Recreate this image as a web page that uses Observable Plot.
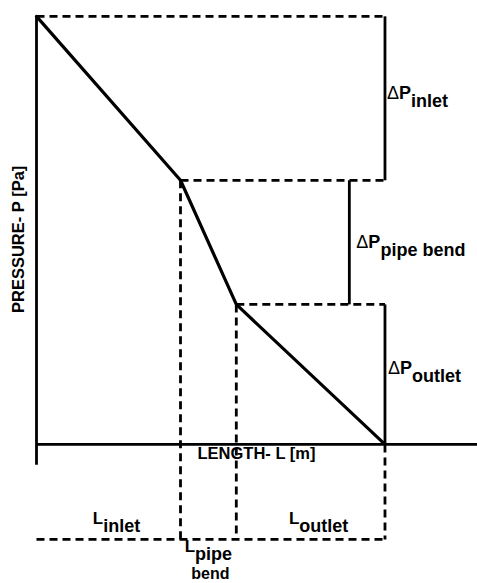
<!DOCTYPE html>
<html><head><meta charset="utf-8">
<script src="https://cdn.jsdelivr.net/npm/d3@7"></script>
<script src="https://cdn.jsdelivr.net/npm/@observablehq/plot@0.6"></script>
<style>body{margin:0;background:#fff} svg{display:block}</style>
</head><body><div id="chart"></div>
<script>
// Length breakpoints: start, end of inlet, end of pipe bend, end of outlet
const lengthBreaks = [0, 4.0, 5.55, 9.68];
// Pressure at those breakpoints
const pressureLevels = [10, 6.17, 3.27, 0];
const bottomLevel = -2.22;      // level of the dashed length-dimension line
const axisBottom = -0.49;       // where the vertical axis ends below the x axis
const bendRuleX = 8.69;         // position of the ΔP pipe bend indicator
const dpNames = ["inlet", "pipe bend", "outlet"];
const lNames = ["inlet", "pipe", "outlet"];
const lSecondLine = "bend";
const xLabel = "LENGTH- L [m]";
const yLabel = "PRESSURE- P [Pa]";

const [L0, L1, L2, L3] = lengthBreaks;
const [P0, P1, P2, P3] = pressureLevels;
const profile = lengthBreaks.map((l, i) => ({l, p: pressureLevels[i]}));

const dashed = [
  {x1: L0, x2: L3, y1: P0, y2: P0},
  {x1: L1, x2: L3, y1: P1, y2: P1},
  {x1: L2, x2: L3, y1: P2, y2: P2},
  {x1: L0, x2: L3, y1: bottomLevel, y2: bottomLevel},
  {x1: L1, x2: L1, y1: P1, y2: bottomLevel},
  {x1: L2, x2: L2, y1: P2, y2: bottomLevel},
  {x1: L3, x2: L3, y1: P3, y2: bottomLevel}
];
const solid = [
  {x1: L3, x2: L3, y1: P0, y2: P1},
  {x1: bendRuleX, x2: bendRuleX, y1: P1, y2: P2},
  {x1: L3, x2: L3, y1: P2, y2: P3}
];
const dpLabels = [
  {x: L3, y: (P0 + P1) / 2, sub: dpNames[0], dx: 2, dy: 1},
  {x: bendRuleX, y: (P1 + P2) / 2, sub: dpNames[1], dx: 7, dy: 6},
  {x: L3, y: (P2 + P3) / 2, sub: dpNames[2], dx: 3, dy: 0}
];
const lLabels = [
  {x: (L0 + L1) / 2, sub: lNames[0], dx: 8, dy: -15},
  {x: (L1 + L2) / 2, sub: lNames[1], dx: 0, dy: 13},
  {x: (L2 + L3) / 2, sub: lNames[2], dx: 8, dy: -15}
];

const font = "'Liberation Sans', Arial, Helvetica, sans-serif";
const sw = 2.8;
const dash = "8,5";

const svg = Plot.plot({
  width: 477, height: 583,
  marginTop: 0, marginRight: 0, marginBottom: 0, marginLeft: 0,
  x: {domain: [-1, 12.25], axis: null},
  y: {domain: [-3.25, 10.37], axis: null},
  style: {fontFamily: font, background: "#fff"},
  marks: [
    Plot.link(dashed, {x1: "x1", x2: "x2", y1: "y1", y2: "y2", stroke: "black", strokeWidth: sw, strokeDasharray: dash}),
    Plot.link(solid, {x1: "x1", x2: "x2", y1: "y1", y2: "y2", stroke: "black", strokeWidth: sw}),
    Plot.ruleX([L0], {y1: axisBottom, y2: P0, stroke: "black", strokeWidth: sw}),
    Plot.ruleY([0], {x1: L0, x2: 12.25, stroke: "black", strokeWidth: sw}),
    Plot.line(profile, {x: "l", y: "p", stroke: "black", strokeWidth: 3.2, strokeLinejoin: "miter"}),
    Plot.text(dpLabels, {x: "x", y: "y", text: d => "ΔP" + d.sub, textAnchor: "start", lineAnchor: "bottom", fill: "black"}),
    Plot.text(lLabels, {x: "x", y: () => bottomLevel, text: d => "L" + d.sub, textAnchor: "middle", lineAnchor: "bottom", fill: "black"}),
    Plot.text([lSecondLine], {x: (L1 + L2) / 2, y: bottomLevel, dx: 2, dy: 40, text: d => d, textAnchor: "middle", lineAnchor: "bottom", fontSize: 16, fontWeight: "bold", fill: "black"}),
    Plot.text([xLabel], {x: 6.11, y: 0, dy: 15, text: d => d, textAnchor: "middle", lineAnchor: "bottom", fontSize: 16.5, fontWeight: "bold", fill: "black"}),
    Plot.text([yLabel], {x: -0.5, y: 4.79, text: d => d, rotate: -90, textAnchor: "middle", lineAnchor: "middle", fontSize: 16.5, fontWeight: "bold", fill: "black"})
  ]
});

const NS = "http://www.w3.org/2000/svg";
function rich(prefix, rows, mainParts) {
  const texts = Array.from(svg.querySelectorAll("text"));
  rows.forEach(r => {
    const t = texts.find(el => el.textContent === prefix + r.sub);
    if (!t) return;
    t.textContent = "";
    t.setAttribute("dx", r.dx);
    t.setAttribute("dy", r.dy);
    mainParts.forEach(([txt, weight, size]) => {
      const s = document.createElementNS(NS, "tspan");
      s.setAttribute("font-weight", weight);
      s.setAttribute("font-size", size);
      s.textContent = txt;
      t.appendChild(s);
    });
    const sub = document.createElementNS(NS, "tspan");
    sub.setAttribute("font-weight", "bold");
    sub.setAttribute("font-size", 18);
    sub.setAttribute("dy", 8);
    sub.textContent = r.sub;
    t.appendChild(sub);
  });
}
rich("ΔP", dpLabels, [["Δ", "normal", 18], ["P", "bold", 18]]);
rich("L", lLabels, [["L", "bold", 17]]);

document.getElementById("chart").appendChild(svg);
</script>
</body></html>
